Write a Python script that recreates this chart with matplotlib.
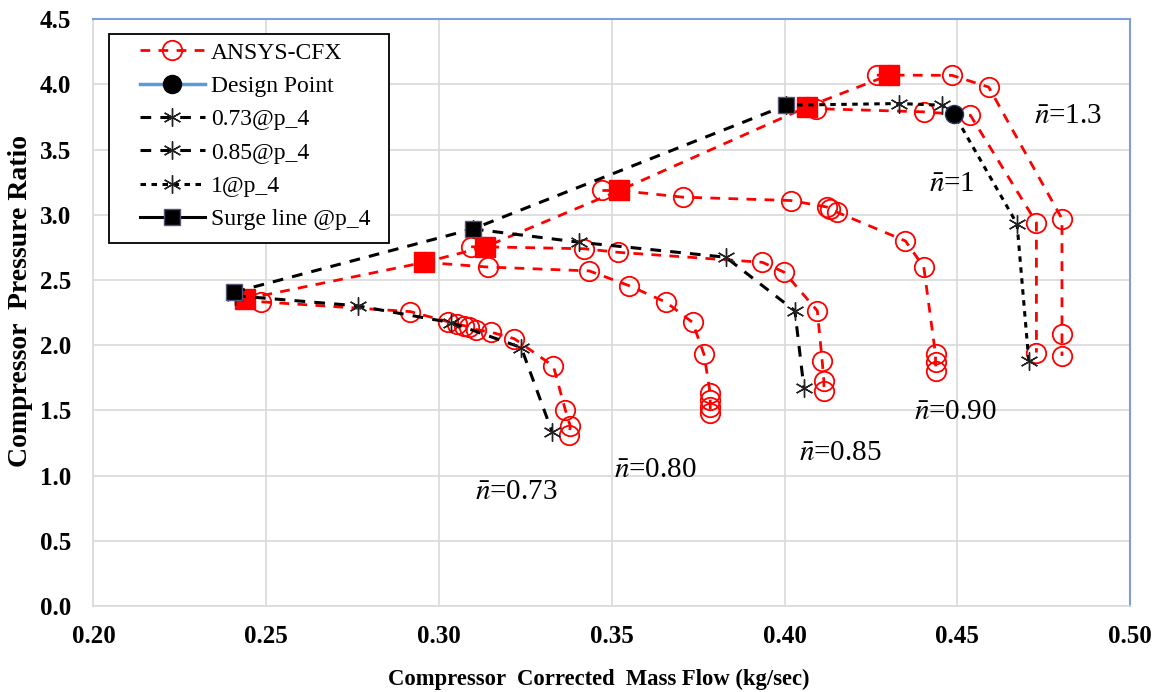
import matplotlib
matplotlib.use('Agg')
import matplotlib.pyplot as plt
from matplotlib.lines import Line2D
from matplotlib.patches import Rectangle

plt.rcParams['font.family'] = ['Liberation Serif', 'DejaVu Serif']
plt.rcParams['mathtext.fontset'] = 'stix'

# ANSYS-CFX speed lines (red circles)
x_073 = [0.2486, 0.2917, 0.3027, 0.3053, 0.3073, 0.3088, 0.3108, 0.3151, 0.3218, 0.3331, 0.3366, 0.3380, 0.3377]
y_073 = [2.333, 2.258, 2.18, 2.16, 2.15, 2.14, 2.12, 2.10, 2.05, 1.84, 1.50, 1.38, 1.31]
x_080 = [0.2958, 0.3141, 0.3435, 0.3551, 0.3657, 0.3734, 0.3767, 0.3785, 0.3785, 0.3785, 0.3785]
y_080 = [2.636, 2.60, 2.57, 2.456, 2.33, 2.175, 1.93, 1.63, 1.58, 1.53, 1.48]
x_085 = [0.3093, 0.3134, 0.3421, 0.3517, 0.3936, 0.3999, 0.4095, 0.4109, 0.4114, 0.4114]
y_085 = [2.755, 2.755, 2.74, 2.713, 2.636, 2.56, 2.264, 1.879, 1.725, 1.65]
x_090 = [0.3473, 0.3522, 0.3705, 0.4018, 0.4123, 0.4133, 0.4152, 0.4350, 0.4403, 0.4437, 0.4437, 0.4439]
y_090 = [3.187, 3.187, 3.136, 3.11, 3.06, 3.046, 3.02, 2.80, 2.60, 1.93, 1.87, 1.80]
x_100 = [0.4065, 0.4090, 0.4403, 0.4538, 0.4729, 0.4729]
y_100 = [3.828, 3.815, 3.79, 3.764, 2.94, 1.944]
x_130 = [0.4267, 0.4302, 0.4485, 0.4591, 0.4803, 0.4803, 0.4803]
y_130 = [4.072, 4.072, 4.07, 3.98, 2.97, 2.085, 1.918]

# ANSYS surge points (red squares)
x_surge_cfx = [0.2438, 0.2958, 0.3134, 0.3522, 0.4065, 0.4302]
y_surge_cfx = [2.354, 2.636, 2.755, 3.187, 3.828, 4.072]

# p_4 lines (black stars)
x_p073 = [0.2410, 0.2765, 0.3036, 0.3238, 0.3328]
y_p073 = [2.38, 2.302, 2.173, 1.982, 1.331]
x_p085 = [0.3098, 0.3406, 0.3830, 0.4030, 0.4056]
y_p085 = [2.892, 2.79, 2.675, 2.264, 1.675]
x_p100 = [0.4005, 0.4331, 0.4456, 0.4490, 0.4673, 0.4707]
y_p100 = [3.841, 3.854, 3.841, 3.777, 2.93, 1.88]

# surge line @p_4 (black squares)
x_surge = [0.2408, 0.3098, 0.4005]
y_surge = [2.408, 2.892, 3.841]

design_x = [0.4490]
design_y = [3.777]

labels = ['0.73', '0.80', '0.85', '0.90', '1', '1.3']
label_x = [0.3103, 0.3507, 0.4042, 0.4374, 0.4418, 0.4722]
label_y = [0.877, 1.046, 1.177, 1.49, 3.24, 3.76]

red = '#ff0000'
dash = (0, (3.5, 3))
short = (0, (1.8, 1.8))

W, H = 1157, 692
fig = plt.figure(figsize=(W / 100, H / 100), dpi=100)
ax = fig.add_axes([0.0808, 0.1243, 0.8959, 0.8478])

for xs, ys in [(x_073, y_073), (x_080, y_080), (x_085, y_085),
               (x_090, y_090), (x_100, y_100), (x_130, y_130)]:
    ax.plot(xs, ys, color=red, ls=dash, lw=2, marker='o', ms=14,
            mfc='none', mec=red, mew=1.3, zorder=3)

ax.plot(x_surge_cfx, y_surge_cfx, color=red, ls=dash, lw=2, marker='s',
        ms=14, mfc=red, mec=red, zorder=4)

star = (6, 2, 0)
ax.plot(x_p073, y_p073, color='black', ls=dash, lw=2.2, marker=star, ms=13,
        mec='#222222', mew=1, zorder=5)
ax.plot(x_p085, y_p085, color='black', ls=dash, lw=2.2, marker=star, ms=13,
        mec='#222222', mew=1, zorder=5)
ax.plot(x_p100, y_p100, color='black', ls=short, lw=2.2, marker=star,
        ms=13, mec='#222222', mew=1, zorder=5)
ax.plot(x_surge, y_surge, color='black', ls=dash, lw=2.2, marker='s', ms=12,
        mfc='black', mec='#555577', zorder=6)
ax.plot(design_x, design_y, ls='none', marker='o', ms=13, mfc='black',
        mec='#1f3864', zorder=7)

for t, lx, ly in zip(labels, label_x, label_y):
    ax.text(lx, ly, r'$\bar{n}$=' + t, fontsize=21, va='center', ha='left')

ax.set_xlim(0.20, 0.50)
ax.set_ylim(0.0, 4.5)
ax.set_xticks([0.20, 0.25, 0.30, 0.35, 0.40, 0.45, 0.50])
ax.set_xticklabels(['0.20', '0.25', '0.30', '0.35', '0.40', '0.45', '0.50'])
ax.set_yticks([0.0, 0.5, 1.0, 1.5, 2.0, 2.5, 3.0, 3.5, 4.0, 4.5])
ax.set_yticklabels(['0.0', '0.5', '1.0', '1.5', '2.0', '2.5', '3.0', '3.5', '4.0', '4.5'])
ax.tick_params(length=0, labelsize=18)
ax.tick_params(axis='x', pad=14)
ax.tick_params(axis='y', pad=16)
for lab in ax.get_xticklabels() + ax.get_yticklabels():
    lab.set_fontweight('bold')
ax.grid(True, color='#d9d9d9', lw=1.2)
ax.set_axisbelow(True)
for s in ['left', 'bottom']:
    ax.spines[s].set_color('#d9d9d9')
    ax.spines[s].set_linewidth(1.2)
for s in ['top', 'right']:
    ax.spines[s].set_color('#7f9fdc')
    ax.spines[s].set_linewidth(1.5)

ax.set_xlabel('Compressor  Corrected  Mass Flow (kg/sec)', fontsize=16.3,
              fontweight='bold')
ax.xaxis.set_label_coords(0.487, -0.107)
ax.set_ylabel('Compressor  Pressure Ratio', fontsize=20, fontweight='bold')
ax.yaxis.set_label_coords(-0.058, 0.52)

handles = [
    Line2D([], [], color=red, ls=dash, lw=2, marker='o', ms=14, mfc='none', mec=red, mew=1.3),
    Line2D([], [], color='#5b9bd5', ls='-', lw=2.5, marker='o', ms=13, mfc='black', mec='black'),
    Line2D([], [], color='black', ls=dash, lw=2.2, marker=star, ms=13, mec='#222222', mew=1),
    Line2D([], [], color='black', ls=dash, lw=2.2, marker=star, ms=13, mec='#222222', mew=1),
    Line2D([], [], color='black', ls=short, lw=2.2, marker=star, ms=13, mec='#222222', mew=1),
    Line2D([], [], color='black', ls='-', lw=2.2, marker='s', ms=11, mfc='black', mec='#555577'),
]
names = ['ANSYS-CFX', 'Design Point', '0.73@p_4', '0.85@p_4', '1@p_4', 'Surge line @p_4']

# legend frame drawn separately so the handles can sit further in
frame = Rectangle((109 / W, 1 - 243 / H), 280 / W, 209 / H, transform=fig.transFigure,
                  facecolor='white', edgecolor='black', lw=1.3, zorder=9)
fig.patches.append(frame)
leg = fig.legend(handles, names, loc='upper left', bbox_to_anchor=(140 / W, 1 - 42 / H),
                 fontsize=17, handlelength=2.75, labelspacing=0.5, handletextpad=0.25,
                 borderpad=0, borderaxespad=0, frameon=False)
leg.set_zorder(10)

fig.savefig('out.png', dpi=100)
